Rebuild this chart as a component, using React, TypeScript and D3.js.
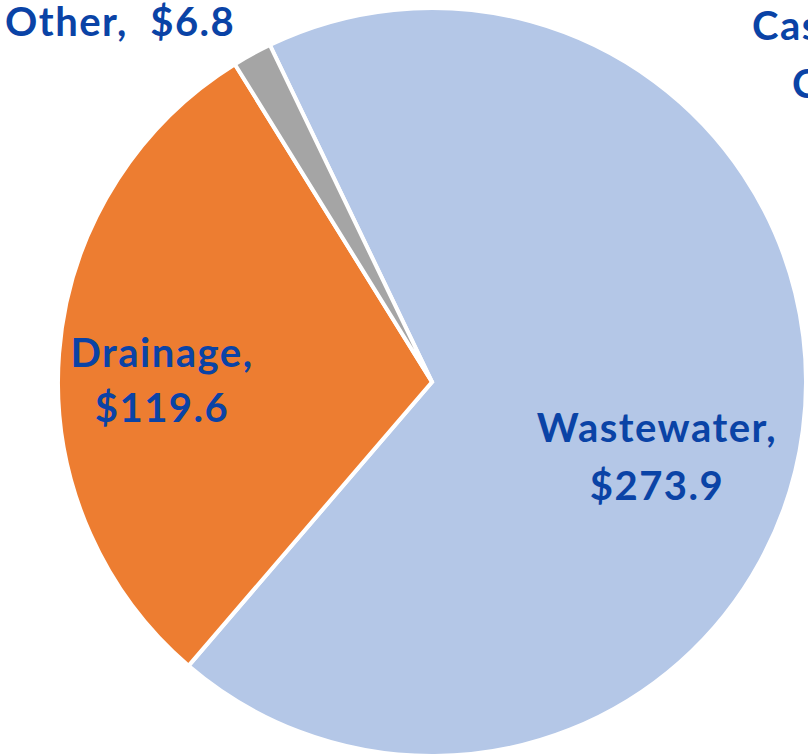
import React from "react";
import * as d3 from "d3";

const categories = ["Wastewater", "Drainage", "Other"];
const values = [273.9, 119.6, 6.8];
const colors = ["#B4C7E7", "#ED7D31", "#A5A5A5"];
const clippedLabel = ["Cash", "Capital"];

const W = 808, H = 756;
const cx = 432, cy = 382, R = 374;
const startDeg = -25.7;

export default function App() {
  const pie = d3
    .pie<number>()
    .sort(null)
    .startAngle((startDeg * Math.PI) / 180)
    .endAngle((startDeg * Math.PI) / 180 + 2 * Math.PI);
  const arcs = pie(values);
  const arc = d3.arc<d3.PieArcDatum<number>>().innerRadius(0).outerRadius(R);
  const font = "Lato, 'Open Sans', sans-serif";
  const tc = "#0A43A6";
  return (
    <svg width={W} height={H} style={{ position: "absolute", left: 0, top: 0, display: "block" }}>
      <rect width={W} height={H} fill="#fff" />
      <g transform={`translate(${cx},${cy})`}>
        {arcs.map((a, i) => (
          <path key={categories[i]} d={arc(a) || ""} fill={colors[i]} stroke="#fff" strokeWidth={4} strokeLinejoin="miter" />
        ))}
      </g>
      <g fontFamily={font} fontWeight="bold" fill={tc} fontSize={40} letterSpacing={1.5}>
        <text x={657} y={442} textAnchor="middle">{`${categories[0]},`}</text>
        <text x={657} y={500} textAnchor="middle">{`$${values[0].toFixed(1)}`}</text>
        <text x={162} y={367} textAnchor="middle">{`${categories[1]},`}</text>
        <text x={162} y={422} textAnchor="middle">{`$${values[1].toFixed(1)}`}</text>
        <text x={5} y={36} textAnchor="start" xmlSpace="preserve">{`${categories[2]},  $${values[2].toFixed(1)}`}</text>
        <text x={752} y={40} textAnchor="start">{clippedLabel[0]}</text>
        <text x={792} y={98} textAnchor="start">{clippedLabel[1]}</text>
      </g>
    </svg>
  );
}
